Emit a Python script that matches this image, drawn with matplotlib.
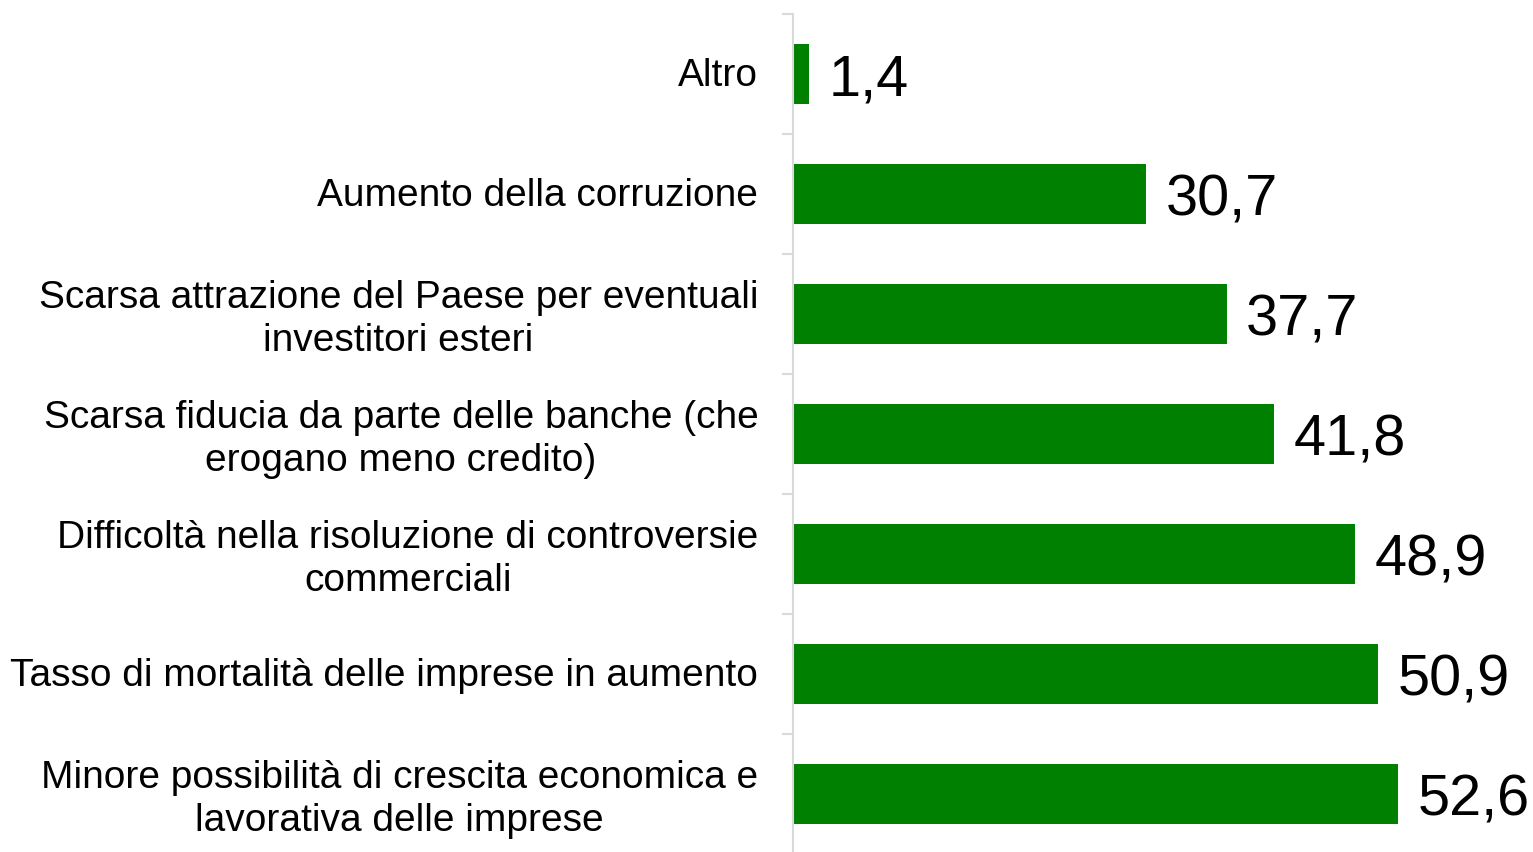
import matplotlib
matplotlib.use("Agg")
import matplotlib.pyplot as plt
import matplotlib.transforms as mtransforms
import numpy as np

plt.rcParams['font.family'] = ['Liberation Sans', 'DejaVu Sans']

categories = [
    "Minore possibilità di crescita economica e\nlavorativa delle imprese",
    "Tasso di mortalità delle imprese in aumento",
    "Difficoltà nella risoluzione di controversie\ncommerciali",
    "Scarsa fiducia da parte delle banche (che\nerogano meno credito)",
    "Scarsa attrazione del Paese per eventuali\ninvestitori esteri",
    "Aumento della corruzione",
    "Altro",
]
values = [52.6, 50.9, 48.9, 41.8, 37.7, 30.7, 1.4]
value_labels = ["52,6", "50,9", "48,9", "41,8", "37,7", "30,7", "1,4"]

fig = plt.figure(figsize=(15.33, 8.52), dpi=100)
ax = fig.add_axes([793/1533, -2/852, (1533-793)/1533, (852-14+2)/852])

y = np.arange(len(categories))
ax.barh(y, values, height=0.5, color="#008000")
ax.set_xlim(0, 64.35)
ax.set_ylim(-0.5, len(categories) - 0.5)

for s in ["top", "right", "bottom"]:
    ax.spines[s].set_visible(False)
ax.spines["left"].set_color("#d9d9d9")
ax.spines["left"].set_linewidth(1.5)
ax.set_xticks([])

ax.set_yticks(y)
ax.set_yticklabels(categories, fontsize=28, multialignment="center", linespacing=1.26)
ax.tick_params(axis="y", which="major", length=0, pad=25)
ax.set_yticks(np.arange(-0.5, len(categories), 1.0), minor=True)
ax.tick_params(axis="y", which="minor", length=8, width=1.5, color="#d9d9d9")

shift = mtransforms.ScaledTranslation(0, 2 / 100, fig.dpi_scale_trans)
for lbl in ax.get_yticklabels():
    lbl.set_transform(lbl.get_transform() + shift)

fs = 41.5
for yi, v, lab in zip(y, values, value_labels):
    ax.annotate(lab, (v, yi), xytext=(14, -fs * 0.716 / 2 - 0.5), textcoords="offset points",
                va="baseline", ha="left", fontsize=fs, color="black")

fig.savefig("out.png", dpi=100)
